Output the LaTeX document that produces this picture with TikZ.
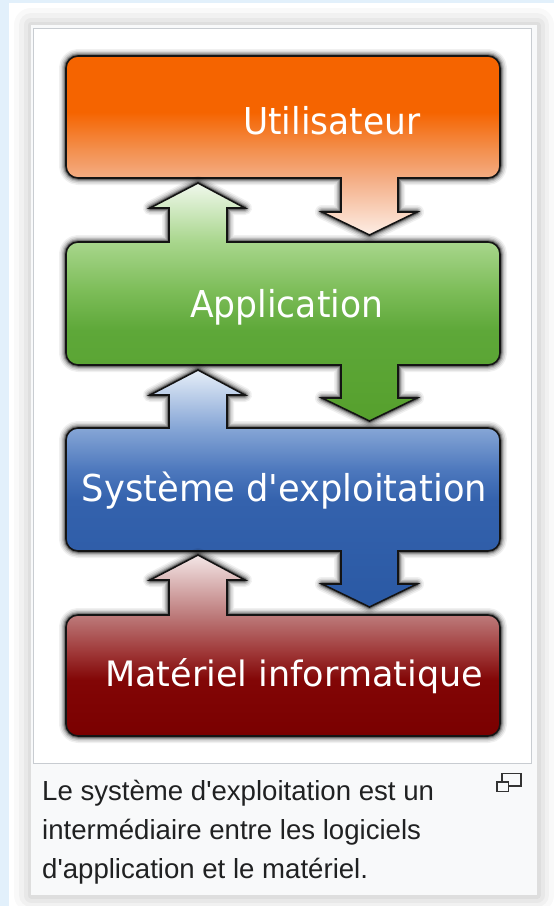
\documentclass[tikz,border=0pt]{standalone}
\usepackage{fontspec}
\newfontfamily\boxfont[Ligatures=TeXOff]{DejaVu Sans}
\newfontfamily\capfont[Ligatures=TeXOff]{Liberation Sans}

% page and frame colours
\definecolor{pageblue}{HTML}{E2F0FB}
\definecolor{cardbg}{HTML}{F8F9FA}
\definecolor{frame}{HTML}{C8CCD1}
\definecolor{captext}{HTML}{202122}
\definecolor{iconline}{HTML}{333333}

% layer colours, from the light end of each arrow to the solid part
\definecolor{oA}{HTML}{FDEEE6}\definecolor{oB}{HTML}{F4AD84}
\definecolor{oC}{HTML}{F3904F}\definecolor{oD}{HTML}{F56400}
\definecolor{gA}{HTML}{F0F8EC}\definecolor{gB}{HTML}{A8D68C}
\definecolor{gC}{HTML}{7DBD59}\definecolor{gD}{HTML}{5EA839}
\definecolor{gE}{HTML}{56A02D}
\definecolor{bA}{HTML}{E6EEF8}\definecolor{bB}{HTML}{86A6D6}
\definecolor{bC}{HTML}{4D78BD}\definecolor{bD}{HTML}{3462AD}
\definecolor{bE}{HTML}{2A59A4}
\definecolor{rA}{HTML}{F3E6E6}\definecolor{rB}{HTML}{BD7B7B}
\definecolor{rC}{HTML}{A13C3C}\definecolor{rD}{HTML}{820606}
\definecolor{rE}{HTML}{7A0000}

% vertical shadings: 25bp = bottom of the shape, 75bp = top of the shape
\pgfdeclareverticalshading{orangefill}{100bp}{color(0bp)=(oA); color(25bp)=(oA);
  color(40.9bp)=(oB); color(48.7bp)=(oC); color(59.4bp)=(oD); color(100bp)=(oD)}
\pgfdeclareverticalshading{greenfill}{100bp}{color(0bp)=(gE); color(25bp)=(gE);
  color(44.1bp)=(gD); color(52.5bp)=(gC); color(62.6bp)=(gB); color(75bp)=(gA); color(100bp)=(gA)}
\pgfdeclareverticalshading{bluefill}{100bp}{color(0bp)=(bE); color(25bp)=(bE);
  color(47.6bp)=(bD); color(53.9bp)=(bC); color(62.8bp)=(bB); color(75bp)=(bA); color(100bp)=(bA)}
\pgfdeclareverticalshading{redfill}{100bp}{color(0bp)=(rE); color(25bp)=(rE);
  color(40.5bp)=(rD); color(48.8bp)=(rC); color(58.4bp)=(rB); color(75bp)=(rA); color(100bp)=(rA)}

\begin{document}
\begin{tikzpicture}[x=1pt,y=-1pt,
  % each layer: black outline with a dark glow built from stacked soft strokes
  layer/.style={
    preaction={draw=black, draw opacity=0.06, line width=14pt, line join=round},
    preaction={draw=black, draw opacity=0.09, line width=11pt, line join=round},
    preaction={draw=black, draw opacity=0.13, line width=8pt, line join=round},
    preaction={draw=black, draw opacity=0.20, line width=5.5pt, line join=round},
    preaction={draw=black, draw opacity=0.30, line width=3.5pt, line join=round},
    draw=black!92, line width=1.6pt, line join=miter},
  % soft grey shadow round the caption card
  cardshadow/.style={
    preaction={draw=black, draw opacity=0.025, line width=34pt, line join=round},
    preaction={draw=black, draw opacity=0.03, line width=24pt, line join=round},
    preaction={draw=black, draw opacity=0.035, line width=15pt, line join=round},
    preaction={draw=black, draw opacity=0.04, line width=7pt, line join=round}},
  boxlabel/.style={anchor=base west, inner sep=0pt, text=white},
  captionline/.style={anchor=base west, inner sep=0pt, text=captext,
    font=\capfont\fontsize{27.6}{39}\selectfont}]
\useasboundingbox (0,0) rectangle (554,906);

% page, card and image frame
\fill[pageblue] (0,0) rectangle (554,906);
\fill[white] (9,3) rectangle (554,906);
\fill[cardbg, cardshadow] (31,25) rectangle (537,895);
\filldraw[fill=white, draw=frame, line width=1pt] (33,28) rectangle (531.5,763);

% user layer with its downward arrow
\path[layer, shade, shading=orangefill]
  (66,68) .. controls (66,61.4) and (71.4,56) .. (78,56)
  -- (488,56) .. controls (494.6,56) and (500,61.4) .. (500,68)
  -- (500,166) .. controls (500,172.6) and (494.6,178) .. (488,178)
  -- (398,178) -- (398,212) -- (417,212) -- (369.5,235) -- (322,212) -- (341,212) -- (341,178)
  -- (78,178) .. controls (71.4,178) and (66,172.6) .. (66,166) -- cycle;

% application layer, arrow up and arrow down
\path[layer, shade, shading=greenfill]
  (66,254) .. controls (66,247.4) and (71.4,242) .. (78,242)
  -- (169,242) -- (169,208) -- (150,208) -- (198,183) -- (245,208) -- (227,208) -- (227,242)
  -- (488,242) .. controls (494.6,242) and (500,247.4) .. (500,254)
  -- (500,353) .. controls (500,359.6) and (494.6,365) .. (488,365)
  -- (398,365) -- (398,398) -- (417,398) -- (369.5,421) -- (322,398) -- (341,398) -- (341,365)
  -- (78,365) .. controls (71.4,365) and (66,359.6) .. (66,353) -- cycle;

% operating system layer, arrow up and arrow down
\path[layer, shade, shading=bluefill]
  (66,440) .. controls (66,433.4) and (71.4,428) .. (78,428)
  -- (169,428) -- (169,395) -- (150,395) -- (198,370) -- (245,395) -- (227,395) -- (227,428)
  -- (488,428) .. controls (494.6,428) and (500,433.4) .. (500,440)
  -- (500,539) .. controls (500,545.6) and (494.6,551) .. (488,551)
  -- (398,551) -- (398,584) -- (417,584) -- (369.5,607) -- (322,584) -- (341,584) -- (341,551)
  -- (78,551) .. controls (71.4,551) and (66,545.6) .. (66,539) -- cycle;

% hardware layer with its upward arrow
\path[layer, shade, shading=redfill]
  (66,627) .. controls (66,620.4) and (71.4,615) .. (78,615)
  -- (169,615) -- (169,580) -- (150,580) -- (198,555) -- (245,580) -- (227,580) -- (227,615)
  -- (488,615) .. controls (494.6,615) and (500,620.4) .. (500,627)
  -- (500,724) .. controls (500,730.6) and (494.6,736) .. (488,736)
  -- (78,736) .. controls (71.4,736) and (66,730.6) .. (66,724) -- cycle;

% layer labels
\node[boxlabel] (user) at (243,134)
  {\resizebox{177pt}{\height}{\boxfont\fontsize{37}{40}\selectfont Utilisateur}};
\node[boxlabel] (app) at (190,317.7)
  {\resizebox{193pt}{\height}{\boxfont\fontsize{37}{40}\selectfont Application}};
\node[boxlabel] (os) at (81.7,501)
  {\resizebox{405pt}{\height}{\boxfont\fontsize{37}{40}\selectfont Système d'exploitation}};
\node[boxlabel] (hw) at (105,686.7)
  {\resizebox{378pt}{\height}{\boxfont\fontsize{35}{40}\selectfont Matériel informatique}};

% caption
\node[captionline] (cap1) at (42,800) {Le système d'exploitation est un};
\node[captionline] (cap2) at (42,839.5) {intermédiaire entre les logiciels};
\node[captionline] (cap3) at (42,878) {d'application et le matériel.};

% enlarge icon
\draw[iconline, line width=1.3pt] (502,773.5) rectangle (521,786);
\filldraw[draw=iconline, fill=cardbg, line width=1.3pt] (497,782) rectangle (508.5,791.5);
\end{tikzpicture}
\end{document}
